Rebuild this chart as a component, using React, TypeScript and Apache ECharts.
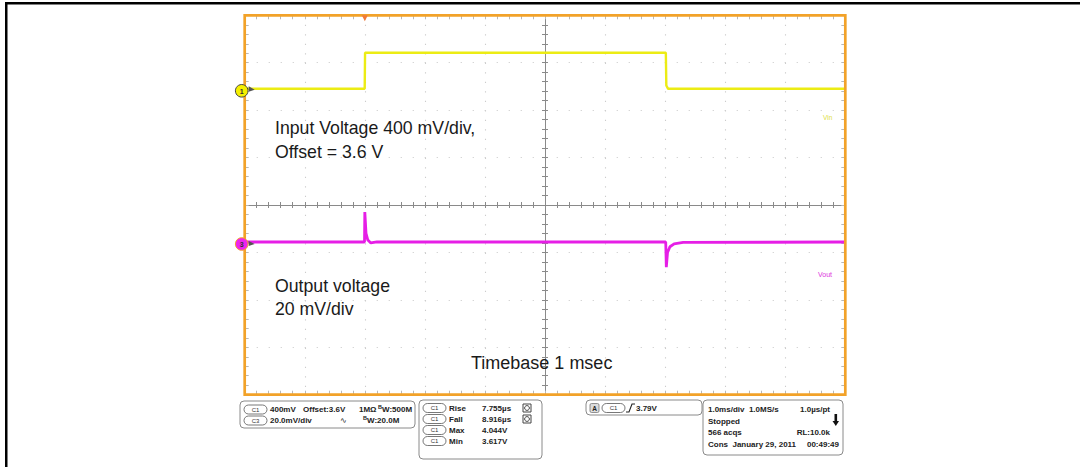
import React, { useEffect, useRef } from "react";
import * as echarts from "echarts";

// Time axis: ms relative to trigger (1 ms/div), vertical axis: screen divisions
const X_MIN = -2;
const X_MAX = 8;
const Y_MIN = -4;
const Y_MAX = 4;

// Channel 1 (input voltage, 400 mV/div) in divisions
const ch1Times = [-2, -0.002, 0.004, 5.012, 5.02, 5.05, 8];
const ch1Levels = [2.45, 2.45, 3.21, 3.21, 2.52, 2.45, 2.45];

// Channel 3 (output voltage, 20 mV/div) in divisions
const ch3Times = [-2, -0.005, 0.0, 0.02, 0.05, 0.1, 0.2, 5.01, 5.02, 5.04, 5.08, 5.15, 5.3, 8];
const ch3Levels = [-0.78, -0.78, -0.15, -0.6, -0.74, -0.8, -0.78, -0.78, -1.31, -1.0, -0.88, -0.82, -0.79, -0.78];

const FONT = "'Liberation Sans', Arial, sans-serif";

const GRID = { left: 244.7, top: 15.3, width: 600.6, height: 379.4 };

function txt(x: number, y: number, s: string, opt: any = {}) {
  return {
    type: "text",
    x,
    y,
    z: 100,
    style: {
      text: s,
      fontSize: opt.size ?? 8,
      fontWeight: opt.weight ?? "bold",
      fontFamily: opt.family ?? FONT,
      fill: opt.color ?? "#222",
      align: opt.align ?? "left",
      verticalAlign: "middle",
    },
  };
}

function pill(x: number, y: number, label: string) {
  return [
    {
      type: "rect",
      z: 100,
      shape: { x, y: y - 4.5, width: 23, height: 9, r: 4.5 },
      style: { fill: "#fff", stroke: "#555", lineWidth: 0.8 },
    },
    txt(x + 11.5, y + 0.3, label, { size: 6, align: "center", weight: "normal", color: "#333" }),
  ];
}

function box(x: number, y: number, w: number, h: number) {
  return {
    type: "rect",
    z: 99,
    shape: { x, y, width: w, height: h, r: 4 },
    style: { fill: "#fff", stroke: "#8a8a8a", lineWidth: 1 },
  };
}

function bw(x: number, y: number, rest: string) {
  return [txt(x, y - 2.5, "B", { size: 5.5 }), txt(x + 4, y, rest)];
}

function measIcon(x: number, y: number) {
  return [
    {
      type: "rect",
      z: 100,
      shape: { x, y: y - 4, width: 8, height: 8 },
      style: { fill: "#fff", stroke: "#444", lineWidth: 1 },
    },
    {
      type: "circle",
      z: 101,
      shape: { cx: x + 4, cy: y, r: 2.4 },
      style: { fill: "none", stroke: "#333", lineWidth: 0.9 },
    },
  ];
}

function axisBase(extra: any) {
  return {
    type: "value",
    axisLabel: { show: false },
    splitLine: { show: false },
    axisLine: { show: false, onZero: false },
    axisTick: { show: true, inside: true, length: 4, lineStyle: { color: "#b8b8b8", width: 1 } },
    minorTick: { show: true, splitNumber: 5, length: 4, lineStyle: { color: "#b8b8b8", width: 1 } },
    ...extra,
  };
}

export default function App() {
  const ref = useRef<HTMLDivElement>(null);

  useEffect(() => {
    if (!ref.current) return;
    const chart = echarts.init(ref.current, undefined, { renderer: "svg" });

    const xCommon = { min: X_MIN, max: X_MAX, interval: 1 };
    const yCommon = { min: Y_MIN, max: Y_MAX, interval: 1 };
    const centerTick = { show: true, inside: false, length: 3, lineStyle: { color: "#8a8a8a", width: 1 } };
    const centerMinor = { show: true, splitNumber: 5, length: 3, lineStyle: { color: "#8a8a8a", width: 1 } };

    const ch1Data = ch1Times.map((t, i) => [t, ch1Levels[i]]);
    const ch3Data = ch3Times.map((t, i) => [t, ch3Levels[i]]);

    chart.setOption({
      animation: false,
      backgroundColor: "#fff",
      grid: {
        left: GRID.left,
        top: GRID.top,
        width: GRID.width,
        height: GRID.height,
        show: false,
      },
      xAxis: [
        axisBase({
          ...xCommon,
          position: "bottom",
          splitLine: { show: true, lineStyle: { color: "#cccccc", width: 1.1, type: [1.1, 8.4] } },
        }),
        axisBase({ ...xCommon, position: "top" }),
        axisBase({
          ...xCommon,
          position: "bottom",
          offset: -GRID.height / 2,
          axisLine: { show: true, onZero: false, lineStyle: { color: "#8a8a8a", width: 1 } },
          axisTick: centerTick,
          minorTick: centerMinor,
        }),
        axisBase({
          ...xCommon,
          position: "top",
          offset: -GRID.height / 2,
          axisTick: centerTick,
          minorTick: centerMinor,
        }),
      ],
      yAxis: [
        axisBase({
          ...yCommon,
          position: "left",
          splitLine: { show: true, lineStyle: { color: "#cccccc", width: 1.1, type: [1.1, 10.9] } },
        }),
        axisBase({ ...yCommon, position: "right" }),
        axisBase({
          ...yCommon,
          position: "left",
          offset: -GRID.width / 2,
          axisLine: { show: true, onZero: false, lineStyle: { color: "#8a8a8a", width: 1 } },
          axisTick: centerTick,
          minorTick: centerMinor,
        }),
        axisBase({
          ...yCommon,
          position: "right",
          offset: -GRID.width / 2,
          axisTick: centerTick,
          minorTick: centerMinor,
        }),
      ],
      series: [
        {
          type: "line",
          name: "Vin",
          xAxisIndex: 0,
          yAxisIndex: 0,
          data: ch1Data,
          showSymbol: false,
          symbol: "none",
          lineStyle: { color: "#ecec14", width: 2.4 },
          z: 5,
        },
        {
          type: "line",
          name: "Vout",
          xAxisIndex: 0,
          yAxisIndex: 0,
          data: ch3Data,
          showSymbol: false,
          symbol: "none",
          lineStyle: { color: "#e61ee6", width: 2.8 },
          z: 5,
        },
      ],
    });

    const y1 = chart.convertToPixel({ xAxisIndex: 0, yAxisIndex: 0 }, [X_MIN, ch1Levels[0]])[1];
    const y3 = chart.convertToPixel({ xAxisIndex: 0, yAxisIndex: 0 }, [X_MIN, ch3Levels[0]])[1];
    const xTrig = chart.convertToPixel({ xAxisIndex: 0, yAxisIndex: 0 }, [0, 0])[0];

    const gx = GRID.left;
    const gy = GRID.top;

    const graphic: any[] = [
      // outer black corner frame
      { type: "rect", z: 120, shape: { x: 5, y: 2, width: 1075, height: 2.5 }, style: { fill: "#000" } },
      { type: "rect", z: 120, shape: { x: 5, y: 2, width: 2.5, height: 465 }, style: { fill: "#000" } },
      // orange graticule frame
      {
        type: "rect",
        z: 90,
        shape: { x: gx, y: gy, width: GRID.width, height: GRID.height },
        style: { fill: "none", stroke: "#f2a229", lineWidth: 2.7 },
      },
      // trigger position marker
      {
        type: "polygon",
        z: 95,
        shape: { points: [[xTrig - 3, gy], [xTrig + 3, gy], [xTrig, gy + 6]] },
        style: { fill: "#f07a3a" },
      },
      // channel markers
      {
        type: "polygon",
        z: 95,
        shape: { points: [[gx + 4, y1 - 2.5], [gx + 10, y1 + 1], [gx + 4, y1 + 3]] },
        style: { fill: "#555" },
      },
      { type: "circle", z: 96, shape: { cx: gx - 3, cy: y1 + 2, r: 6.3 }, style: { fill: "#f5f000", stroke: "#444", lineWidth: 1 } },
      txt(gx - 3, y1 + 2.3, "1", { size: 7, align: "center", color: "#333", weight: "bold" }),
      {
        type: "polygon",
        z: 95,
        shape: { points: [[gx + 4, y3 - 1], [gx + 10, y3 + 2], [gx + 4, y3 + 4]] },
        style: { fill: "#555" },
      },
      { type: "circle", z: 96, shape: { cx: gx - 3, cy: y3 + 2, r: 6.3 }, style: { fill: "#ee22ee", stroke: "#f2a229", lineWidth: 1 } },
      txt(gx - 3, y3 + 2.3, "3", { size: 7, align: "center", color: "#333", weight: "bold" }),
      // trace names
      txt(823, 117, "Vin", { size: 6.5, weight: "normal", color: "#dede40" }),
      txt(818, 274, "Vout", { size: 7, weight: "normal", color: "#dd33dd" }),
      // annotations
      txt(275, 128, "Input Voltage 400 mV/div,", { size: 17.7, weight: "normal", color: "#1a1a1a" }),
      txt(275, 152, "Offset = 3.6 V", { size: 17.7, weight: "normal", color: "#1a1a1a" }),
      txt(275, 286, "Output voltage", { size: 17.7, weight: "normal", color: "#1a1a1a" }),
      txt(275, 309, "20 mV/div", { size: 17.7, weight: "normal", color: "#1a1a1a" }),
      txt(471, 363, "Timebase 1 msec", { size: 18, weight: "normal", color: "#1a1a1a" }),

      // panel 1: channel settings
      box(240, 401, 175, 27),
      ...pill(244, 409.5, "C1"),
      txt(270, 409.5, "400mV"),
      txt(303, 409.5, "Offset:3.6V"),
      txt(359, 409.5, "1MΩ"),
      ...bw(378, 409.5, "W:500M"),
      ...pill(244, 420.5, "C3"),
      txt(270, 420.5, "20.0mV/div"),
      txt(340, 420.5, "∿", { size: 8, weight: "normal", family: "'DejaVu Sans', sans-serif" }),
      ...bw(363, 420.5, "W:20.0M"),

      // panel 2: measurements
      box(419, 400, 123, 59),
      ...pill(423, 408, "C1"),
      txt(449, 408, "Rise"),
      txt(482, 408, "7.755µs"),
      ...measIcon(523, 408),
      ...pill(423, 419, "C1"),
      txt(449, 419, "Fall"),
      txt(482, 419, "8.916µs"),
      ...measIcon(523, 419),
      ...pill(423, 430, "C1"),
      txt(449, 430, "Max"),
      txt(482, 430, "4.044V"),
      ...pill(423, 441, "C1"),
      txt(449, 441, "Min"),
      txt(482, 441, "3.617V"),

      // panel 3: trigger
      box(586, 400, 116, 15),
      {
        type: "rect",
        z: 100,
        shape: { x: 590, y: 403.5, width: 9, height: 9, r: 1.5 },
        style: { fill: "#dcdcdc", stroke: "#777", lineWidth: 0.8 },
      },
      txt(594.5, 408, "A", { size: 6.5, align: "center" }),
      ...pill(602, 408, "C1"),
      {
        type: "polyline",
        z: 100,
        shape: { points: [[626, 412], [629, 412], [632, 404], [635, 404]] },
        style: { stroke: "#222", lineWidth: 1.1, fill: "none" },
      },
      txt(636, 408, "3.79V"),

      // panel 4: acquisition
      box(703, 400, 140, 55),
      txt(708, 409, "1.0ms/div  1.0MS/s"),
      txt(830, 409, "1.0µs/pt", { align: "right" }),
      txt(708, 421, "Stopped"),
      { type: "rect", z: 100, shape: { x: 834.5, y: 414, width: 2.6, height: 8 }, style: { fill: "#111" } },
      { type: "polygon", z: 100, shape: { points: [[832.5, 421], [839, 421], [835.8, 426]] }, style: { fill: "#111" } },
      txt(708, 432.5, "566 acqs"),
      txt(830, 432.5, "RL:10.0k", { align: "right" }),
      txt(708, 444, "Cons  January 29, 2011"),
      txt(839, 444, "00:49:49", { align: "right" }),
    ];

    chart.setOption({ graphic });

    return () => chart.dispose();
  }, []);

  return (
    <div
      ref={ref}
      style={{ position: "fixed", left: 0, top: 0, width: 1080, height: 467, background: "#fff" }}
    />
  );
}
